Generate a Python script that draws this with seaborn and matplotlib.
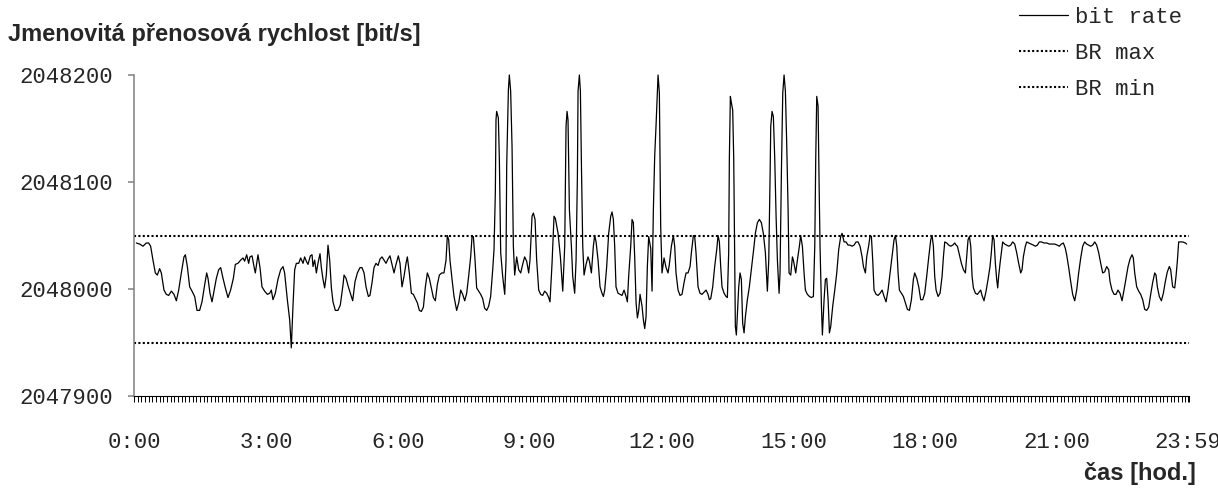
import pandas as pd
import matplotlib
matplotlib.use("Agg")
import matplotlib.pyplot as plt
import seaborn as sns
from matplotlib.ticker import MultipleLocator, FixedLocator

t_0000_0445 = [3.2, 7.7, 12.3, 16.8, 20.0, 22.7, 25.9, 29.1, 31.8, 35.0,
               37.3, 40.9, 44.1, 47.3, 51.0, 54.6, 57.8, 61.0, 64.6, 68.2,
               70.1, 72.8, 76.0, 79.2, 82.8, 86.0, 89.6, 92.8, 96.5, 99.2,
               101.0, 103.7, 106.5, 109.2, 112.4, 115.6, 118.3, 121.5, 124.7, 128.3,
               131.9, 135.6, 138.3, 141.9, 145.6, 148.8, 151.0, 153.8, 156.5, 158.3,
               161.1, 163.8, 165.6, 169.2, 172.0, 174.7, 178.3, 182.0, 185.2, 187.4,
               189.7, 192.9, 196.5, 200.2, 203.4, 205.6, 209.3, 212.5, 214.7, 217.0,
               219.3, 221.6, 224.8, 227.5, 230.7, 232.9, 235.2, 237.5, 240.7, 243.0,
               244.3, 246.6, 248.9, 251.1, 253.9, 255.7, 258.0, 260.2, 262.5, 264.8,
               267.1, 269.4, 271.6, 274.8, 278.4, 281.6, 285.3]
br_0000_0445 = [2048043, 2048042, 2048040, 2048043, 2048043, 2048040, 2048027, 2048015, 2048013, 2048019,
                2048015, 2047999, 2047995, 2047994, 2047998, 2047995, 2047989, 2047999, 2048015, 2048030,
                2048032, 2048021, 2048002, 2047998, 2047993, 2047980, 2047980, 2047988, 2048004, 2048015,
                2048010, 2047996, 2047988, 2047998, 2048010, 2048018, 2048020, 2048010, 2048001, 2047992,
                2047999, 2048010, 2048023, 2048024, 2048027, 2048029, 2048026, 2048032, 2048024, 2048030,
                2048031, 2048021, 2048015, 2048032, 2048020, 2048002, 2047998, 2047995, 2047996, 2047999,
                2047990, 2047996, 2048009, 2048018, 2048021, 2048015, 2047990, 2047971, 2047945, 2047984,
                2048018, 2048024, 2048024, 2048029, 2048024, 2048030, 2048026, 2048023, 2048031, 2048032,
                2048021, 2048027, 2048015, 2048024, 2048033, 2048020, 2048009, 2048001, 2048013, 2048041,
                2048027, 2048001, 2047988, 2047980, 2047980, 2047985, 2048004]

t_0445_0935 = [286.7, 289.4, 292.6, 295.8, 298.5, 301.7, 304.9, 308.5, 311.2, 314.0,
               316.7, 319.9, 322.1, 324.9, 327.6, 330.3, 333.1, 335.8, 338.5, 341.3,
               344.0, 346.7, 349.4, 352.2, 354.9, 357.6, 360.8, 363.1, 365.8, 368.6,
               371.3, 373.1, 375.8, 378.6, 381.3, 384.0, 386.8, 389.5, 392.2, 395.0,
               397.7, 400.4, 403.1, 405.9, 408.6, 411.3, 414.0, 416.8, 420.0, 423.1,
               425.9, 427.7, 429.5, 431.3, 434.1, 436.8, 440.4, 443.2, 445.9, 448.6,
               451.4, 454.1, 456.8, 459.5, 461.4, 463.2, 465.5, 467.7, 470.5, 473.2,
               475.9, 478.6, 481.4, 484.1, 486.8, 489.6, 491.4, 493.2, 494.1, 495.0,
               497.3, 498.7, 500.5, 503.2, 506.0, 507.8, 508.7, 511.0, 512.3, 514.1,
               516.0, 517.8, 519.6, 522.3, 525.1, 527.8, 530.5, 533.2, 536.0, 538.7,
               540.5, 543.3, 545.1, 547.4, 549.6, 552.4, 555.1, 557.8, 560.5, 563.3,
               566.0, 567.8, 570.6, 573.3]
br_0445_0935 = [2048013, 2048010, 2048002, 2047995, 2047989, 2048007, 2048015, 2048020, 2048020, 2048015,
                2048002, 2047993, 2047994, 2048006, 2048020, 2048024, 2048022, 2048028, 2048030, 2048027,
                2048024, 2048028, 2048031, 2048023, 2048015, 2048023, 2048031, 2048024, 2048002, 2048012,
                2048024, 2048030, 2048015, 2047996, 2047995, 2047991, 2047987, 2047980, 2047979, 2047983,
                2048002, 2048015, 2048010, 2048001, 2047992, 2047989, 2048004, 2048013, 2048015, 2048015,
                2048027, 2048050, 2048046, 2048027, 2048009, 2047993, 2047980, 2047987, 2047999, 2047995,
                2047989, 2047996, 2048012, 2048030, 2048049, 2048049, 2048027, 2048001, 2047998, 2047995,
                2047991, 2047982, 2047980, 2047984, 2047993, 2048018, 2048037, 2048090, 2048158, 2048166,
                2048160, 2048121, 2048034, 2048012, 2047995, 2048027, 2048115, 2048186, 2048200, 2048185,
                2048133, 2048040, 2048013, 2048030, 2048018, 2048015, 2048023, 2048030, 2048026, 2048015,
                2048027, 2048068, 2048071, 2048065, 2048027, 2047999, 2047995, 2047994, 2047998, 2047996,
                2047992, 2047988, 2048024, 2048068]

t_0935_1425 = [575.1, 578.8, 582.0, 585.2, 587.9, 589.7, 591.1, 592.4, 594.3, 597.0,
               598.8, 601.5, 603.4, 605.2, 606.1, 607.9, 609.3, 610.6, 612.5, 614.3,
               617.0, 619.7, 621.6, 624.3, 627.0, 628.8, 630.7, 633.4, 636.1, 638.8,
               640.7, 642.5, 645.2, 647.9, 650.7, 652.5, 654.3, 656.1, 657.9, 660.7,
               663.4, 666.1, 668.9, 671.6, 673.4, 675.2, 678.0, 679.8, 681.6, 683.4,
               685.3, 687.1, 688.9, 690.7, 693.4, 695.3, 697.1, 698.9, 700.7, 702.5,
               705.3, 707.1, 708.9, 710.7, 712.5, 714.4, 715.3, 717.1, 718.0, 718.9,
               720.7, 723.5, 726.2, 728.9, 730.7, 733.5, 736.2, 738.0, 739.8, 742.6,
               745.3, 748.0, 750.8, 753.5, 756.2, 759.0, 760.8, 763.5, 765.3, 767.1,
               769.9, 772.6, 775.3, 778.1, 780.8, 783.5, 785.3, 787.2, 789.9, 792.6,
               795.4, 797.2, 799.0, 800.8, 802.6, 805.4, 808.1, 809.9, 811.7, 812.6,
               814.0, 815.4, 817.2, 818.6, 819.5, 820.8, 822.2, 823.6, 825.4, 827.2,
               829.0, 830.8, 832.7, 834.5, 837.2, 839.9, 843.6, 846.3, 848.1, 850.9,
               853.6, 856.3, 859.0, 861.8]
br_0935_1425 = [2048066, 2048052, 2048030, 2047998, 2048040, 2048152, 2048166, 2048158, 2048074, 2048040,
                2048012, 2047996, 2048027, 2048105, 2048185, 2048200, 2048185, 2048121, 2048040, 2048013,
                2048023, 2048030, 2048026, 2048015, 2048040, 2048050, 2048044, 2048027, 2048002, 2047996,
                2047993, 2047999, 2048021, 2048052, 2048068, 2048072, 2048065, 2048040, 2048002, 2047996,
                2047995, 2047994, 2047999, 2047993, 2047988, 2048012, 2048040, 2048065, 2048062, 2048030,
                2047987, 2047973, 2047980, 2047995, 2047984, 2047971, 2047963, 2047974, 2048021, 2048049,
                2048038, 2047998, 2048074, 2048124, 2048152, 2048186, 2048200, 2048183, 2048121, 2048058,
                2048015, 2048029, 2048020, 2048015, 2048023, 2048040, 2048050, 2048040, 2048015, 2047999,
                2047994, 2047995, 2048006, 2048015, 2048015, 2048021, 2048034, 2048050, 2048049, 2048034,
                2048002, 2047996, 2047995, 2047997, 2047999, 2047995, 2047990, 2047991, 2048002, 2048021,
                2048037, 2048050, 2048044, 2048021, 2048002, 2047996, 2047993, 2047992, 2048034, 2048121,
                2048180, 2048174, 2048167, 2048121, 2048058, 2047965, 2047957, 2047977, 2048002, 2048015,
                2048009, 2047968, 2047959, 2047974, 2047990, 2048002, 2048024, 2048040, 2048052, 2048062,
                2048065, 2048062, 2048052, 2048034]

t_1425_1915 = [864.5, 866.4, 868.2, 869.1, 870.9, 872.7, 874.6, 876.4, 878.2, 880.5,
               881.8, 883.7, 885.5, 887.3, 889.1, 890.9, 892.8, 894.1, 896.4, 898.7,
               900.0, 903.2, 905.5, 908.2, 910.0, 912.3, 914.6, 916.4, 919.1, 921.9,
               924.6, 927.3, 929.2, 930.5, 931.9, 933.7, 935.1, 936.4, 938.3, 939.6,
               941.9, 943.7, 945.5, 947.4, 949.2, 951.0, 953.7, 956.5, 959.2, 961.9,
               964.6, 966.5, 969.2, 971.9, 974.6, 977.4, 980.1, 982.8, 985.6, 988.3,
               991.0, 993.8, 995.6, 998.3, 1000.1, 1002.9, 1004.7, 1006.5, 1008.3, 1010.1,
               1012.9, 1015.6, 1018.3, 1021.1, 1023.8, 1026.5, 1029.2, 1032.0, 1034.7, 1037.4,
               1039.3, 1041.1, 1042.9, 1044.7, 1047.4, 1050.2, 1052.9, 1055.6, 1058.4, 1061.1,
               1063.8, 1065.6, 1068.4, 1071.1, 1073.8, 1076.6, 1079.3, 1082.0, 1084.8, 1087.5,
               1089.3, 1091.1, 1092.9, 1094.8, 1097.5, 1100.2, 1103.0, 1104.8, 1106.6, 1109.3,
               1112.1, 1114.8, 1117.5, 1120.3, 1122.1, 1123.9, 1126.6, 1129.3, 1132.1, 1134.8,
               1136.6, 1138.4, 1140.3, 1142.1, 1143.9, 1145.7, 1148.5, 1151.2, 1153.5]
br_1425_1915 = [2047998, 2048027, 2048105, 2048152, 2048166, 2048161, 2048121, 2048068, 2048027, 2047996,
                2048015, 2048111, 2048183, 2048200, 2048185, 2048136, 2048074, 2048015, 2048013, 2048030,
                2048027, 2048015, 2048027, 2048040, 2048050, 2048040, 2048015, 2047999, 2047995, 2047993,
                2047992, 2047993, 2048040, 2048121, 2048180, 2048171, 2048099, 2048040, 2047984, 2047957,
                2047990, 2048009, 2048010, 2047990, 2047959, 2047965, 2047984, 2047999, 2048015, 2048037,
                2048049, 2048052, 2048044, 2048044, 2048041, 2048041, 2048040, 2048041, 2048044, 2048044,
                2048040, 2048030, 2048021, 2048015, 2048030, 2048041, 2048050, 2048049, 2048027, 2047999,
                2047995, 2047994, 2047996, 2047999, 2047993, 2047988, 2047999, 2048015, 2048030, 2048046,
                2048050, 2048040, 2048015, 2047999, 2047996, 2047993, 2047987, 2047981, 2047980, 2047990,
                2048009, 2048015, 2048010, 2048002, 2047990, 2047990, 2047996, 2048012, 2048030, 2048046,
                2048050, 2048040, 2048012, 2047999, 2047993, 2047996, 2048012, 2048030, 2048044, 2048043,
                2048041, 2048040, 2048041, 2048043, 2048041, 2048040, 2048032, 2048024, 2048018, 2048015,
                2048030, 2048046, 2048049, 2048040, 2048012, 2048001, 2047996, 2047995, 2047997]

t_1915_2400 = [1155.7, 1157.5, 1160.2, 1163.0, 1165.7, 1168.4, 1170.2, 1172.0, 1173.9, 1175.7,
               1177.5, 1178.9, 1180.2, 1182.1, 1183.9, 1185.7, 1188.4, 1191.2, 1193.9, 1196.6,
               1199.3, 1202.1, 1204.8, 1207.5, 1210.3, 1212.1, 1213.9, 1216.6, 1218.5, 1221.2,
               1224.4, 1227.6, 1230.3, 1233.0, 1235.7, 1238.5, 1242.1, 1245.8, 1249.4, 1253.0,
               1256.7, 1260.3, 1263.0, 1265.8, 1268.5, 1271.2, 1273.0, 1275.8, 1278.5, 1281.2,
               1284.0, 1286.7, 1289.4, 1292.2, 1294.9, 1297.6, 1300.3, 1303.1, 1305.8, 1308.5,
               1311.3, 1314.0, 1316.7, 1319.5, 1322.2, 1324.9, 1327.6, 1330.4, 1332.2, 1334.9,
               1337.7, 1340.4, 1343.1, 1345.8, 1348.6, 1351.3, 1354.0, 1356.8, 1359.5, 1362.2,
               1364.0, 1365.9, 1368.6, 1371.3, 1374.0, 1376.8, 1379.5, 1382.2, 1385.0, 1387.7,
               1390.4, 1393.2, 1395.0, 1396.8, 1399.5, 1402.3, 1405.0, 1407.7, 1410.4, 1413.2,
               1415.0, 1417.7, 1420.5, 1422.3, 1424.1, 1425.9, 1428.6, 1431.4, 1435.0, 1436.8]
br_1915_2400 = [2047999, 2047994, 2047989, 2047998, 2048009, 2048021, 2048034, 2048050, 2048046, 2048024,
                2048009, 2048001, 2048012, 2048024, 2048034, 2048044, 2048042, 2048041, 2048040, 2048041,
                2048044, 2048042, 2048034, 2048024, 2048015, 2048018, 2048030, 2048040, 2048044, 2048043,
                2048042, 2048041, 2048040, 2048041, 2048044, 2048044, 2048043, 2048043, 2048042, 2048042,
                2048042, 2048041, 2048040, 2048042, 2048043, 2048038, 2048032, 2048020, 2048007, 2047995,
                2047989, 2047999, 2048015, 2048029, 2048040, 2048044, 2048042, 2048041, 2048040, 2048041,
                2048044, 2048041, 2048034, 2048024, 2048015, 2048016, 2048021, 2048018, 2048007, 2047999,
                2047995, 2047995, 2047999, 2047996, 2047989, 2047999, 2048010, 2048021, 2048028, 2048032,
                2048029, 2048015, 2048002, 2047998, 2047995, 2047990, 2047981, 2047980, 2047983, 2047995,
                2048006, 2048015, 2048013, 2048002, 2047993, 2047989, 2047996, 2048007, 2048016, 2048021,
                2048018, 2048002, 2048001, 2048012, 2048026, 2048044, 2048044, 2048044, 2048043, 2048042]

br_max = 2048050
br_min = 2047950
y_ticks = [2047900, 2048000, 2048100, 2048200]
x_ticks = [0, 180, 360, 540, 720, 900, 1080, 1260, 1439]
x_labels = ["0:00", "3:00", "6:00", "9:00", "12:00", "15:00", "18:00", "21:00", "23:59"]

df = pd.DataFrame({
    "minute": t_0000_0445 + t_0445_0935 + t_0935_1425 + t_1425_1915 + t_1915_2400,
    "rate": br_0000_0445 + br_0445_0935 + br_0935_1425 + br_1425_1915 + br_1915_2400,
})

sns.set_style("ticks")
mono = ["Liberation Mono", "DejaVu Sans Mono"]
sans = ["Liberation Sans", "DejaVu Sans"]
plt.rcParams["font.family"] = mono

W, H = 1218, 493
fig = plt.figure(figsize=(W / 100, H / 100), dpi=100)
ax = fig.add_axes([134 / W, 1 - 396 / H, (1189 - 134) / W, (396 - 75) / H])

sns.lineplot(data=df, x="minute", y="rate", ax=ax, color="black", lw=0.9,
             estimator=None, sort=False)
rate_line = ax.lines[0]
rate_line.set_clip_on(False)
max_line = ax.axhline(br_max, color="black", lw=1.5, ls=(0, (1, 1.1)))
min_line = ax.axhline(br_min, color="black", lw=1.5, ls=(0, (1, 1.1)))

ax.set_xlim(0, 1440)
ax.set_ylim(2047900, 2048200)
ax.set_yticks(y_ticks)
ax.set_yticklabels([str(v) for v in y_ticks])
ax.xaxis.set_major_locator(FixedLocator(x_ticks))
ax.xaxis.set_minor_locator(MultipleLocator(5))
ax.set_xticklabels(x_labels)
ax.set_xlabel("")
ax.set_ylabel("")

sns.despine(ax=ax)
ax.spines["left"].set_color("#808080")
ax.spines["left"].set_linewidth(1.1)
ax.spines["bottom"].set_color("black")
ax.spines["bottom"].set_linewidth(0.8)
ax.tick_params(axis="y", direction="out", length=4, width=1.1, color="#808080",
               pad=11, labelsize=16)
ax.tick_params(axis="x", which="both", direction="out", length=4, width=0.7,
               color="black", pad=22, labelsize=16)

fig.text(8 / W, 1 - 41.5 / H, "Jmenovitá přenosová rychlost [bit/s]", family=sans,
         fontweight="bold", fontsize=17, ha="left", va="baseline")
fig.text(1196 / W, 1 - 480 / H, "čas [hod.]", family=sans, fontweight="bold",
         fontsize=17, ha="right", va="baseline")

fig.legend([rate_line, max_line, min_line], ["bit rate", "BR max", "BR min"],
           loc="upper right", bbox_to_anchor=(1182 / W, 1 - 7 / H), frameon=False,
           fontsize=16, handlelength=2.2, handletextpad=0.3, labelspacing=0.68,
           borderpad=0, borderaxespad=0)

fig.savefig("out.png", dpi=100)
